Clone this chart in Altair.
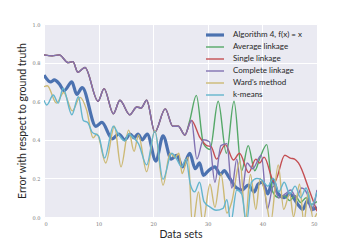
import altair as alt
import pandas as pd

series_names = ["Algorithm 4, f(x) = x", "Average linkage", "Single linkage",
                "Complete linkage", "Ward's method", "k-means"]
series_colors = ["#4C72B0", "#55A868", "#C44E52", "#8172B2", "#CCB974", "#64B5CD"]
series_widths = [3.2, 1.4, 1.4, 1.4, 1.4, 1.4]

x_ticks = [0, 10, 20, 30, 40, 50]
y_ticks = [0.0, 0.2, 0.4, 0.6, 0.8, 1.0]

# Algorithm 4
algo_x = [0, 1.2, 1.9, 2.8, 3.7, 5.1, 6.0, 7.0, 9.5, 10.6, 12.5, 13.7, 14.8, 15.8, 16.5,
          17.2, 18.0, 18.9, 20.5, 21.8, 23.3, 24.3, 25.4, 26.7, 27.7, 28.5, 29.2, 30.1,
          31.3, 32.3, 33.0, 33.8, 35.3, 36.3, 37.4, 38.5, 39.2, 40.0, 41.0, 41.9, 42.8,
          44.0, 45.0, 46.5, 47.4, 48.3, 49.2, 50]
algo_y = [0.735, 0.70, 0.71, 0.69, 0.655, 0.70, 0.635, 0.67, 0.47, 0.49, 0.405, 0.43,
          0.40, 0.43, 0.41, 0.43, 0.40, 0.43, 0.29, 0.42, 0.30, 0.32, 0.26, 0.33, 0.25,
          0.28, 0.215, 0.24, 0.26, 0.22, 0.24, 0.21, 0.15, 0.14, 0.165, 0.13, 0.17, 0.18,
          0.12, 0.195, 0.125, 0.10, 0.12, 0.065, 0.04, 0.085, 0.04, 0.05]

# Complete linkage
complete_x = [0, 1.5, 2.8, 4.4, 5.3, 6.2, 7.5, 9.9, 11.0, 12.7, 13.9, 15.7, 17.0, 17.8,
              18.8, 20.3, 22.2, 23.6, 24.6, 25.8, 27.0, 28.0, 29.2, 30.3, 31.3, 32.4,
              33.5, 34.4, 35.3, 36.2, 37.2, 38.2, 39.8, 40.9, 42.0, 43.0, 44.2, 45.2,
              46.2, 47.2, 48.2, 49.0, 50]
complete_y = [0.84, 0.835, 0.84, 0.80, 0.805, 0.75, 0.775, 0.60, 0.665, 0.535, 0.605,
              0.53, 0.57, 0.565, 0.605, 0.44, 0.56, 0.47, 0.47, 0.425, 0.50, 0.30, 0.40,
              0.39, 0.18, 0.37, 0.38, 0.15, 0.30, 0.12, 0.28, 0.25, 0.32, 0.04, 0.16,
              0.10, 0.12, 0.14, 0.10, 0.15, 0.12, 0.03, 0.14]

# Average linkage (identical to complete linkage on the first data sets)
average_tail_x = [26.7, 27.9, 29.2, 30.4, 31.9, 33.4, 34.8, 36.2, 37.4, 38.6, 39.6, 40.8,
                  41.9, 43.0, 44.0, 45.0, 46.0, 47.0, 48.0, 49.0, 50]
average_tail_y = [0.50, 0.63, 0.38, 0.35, 0.60, 0.33, 0.60, 0.24, 0.37, 0.24, 0.31, 0.375,
                  0.13, 0.10, 0.11, 0.085, 0.11, 0.075, 0.10, 0.065, 0.08]

# Single linkage (identical to complete linkage on the first data sets)
single_tail_x = [28.6, 29.8, 30.6, 31.6, 33.2, 34.7, 35.8, 37.5, 38.8, 39.5, 40.3, 42.2,
                 44.1, 45.1, 45.9, 46.6, 48.7, 50]
single_tail_y = [0.41, 0.37, 0.365, 0.30, 0.375, 0.295, 0.33, 0.23, 0.30, 0.28, 0.31,
                 0.18, 0.32, 0.305, 0.30, 0.28, 0.13, 0.03]

# Ward's method
ward_x = [0, 0.6, 2.3, 3.6, 5.2, 6.6, 7.8, 9.0, 9.7, 11.3, 12.9, 14.1, 15.5, 16.5, 17.3,
          18.8, 20.3, 21.8, 23.1, 24.0, 24.7, 25.3, 26.4, 27.2, 28.3, 29.1, 30.4, 31.3,
          32.4, 33.5, 34.4, 35.9, 36.9, 37.8, 38.8, 39.6, 40.5, 41.5, 42.9, 43.9, 45.0,
          45.7, 46.8, 47.6, 48.4, 49.3, 50]
ward_y = [0.675, 0.68, 0.59, 0.645, 0.55, 0.62, 0.555, 0.41, 0.43, 0.28, 0.47, 0.26, 0.45,
          0.34, 0.425, 0.235, 0.45, 0.165, 0.33, 0.31, 0.33, 0.225, 0.31, -0.05, 0.13,
          -0.03, 0.17, 0.05, 0.225, 0.02, 0.08, 0.29, -0.02, 0.22, 0.04, 0.20, 0.12,
          -0.03, 0.27, 0.04, 0.12, 0.0, 0.17, -0.03, 0.13, -0.01, 0.02]

# k-means
kmeans_x = [0, 0.5, 1.7, 2.6, 3.5, 5.1, 6.3, 7.2, 8.0, 8.8, 10.0, 11.1, 12.7, 13.6, 14.8,
            15.5, 16.4, 17.3, 18.8, 20.3, 21.8, 23.4, 24.3, 25.2, 26.0, 26.8, 27.6, 28.5,
            29.3, 30.5, 31.5, 32.8, 33.5, 34.2, 35.3, 36.2, 37.1, 38.0, 39.0, 40.0, 41.0,
            42.0, 43.0, 44.0, 45.0, 46.0, 47.0, 48.0, 49.0, 50]
kmeans_y = [0.605, 0.58, 0.632, 0.59, 0.667, 0.53, 0.623, 0.50, 0.49, 0.44, 0.42, 0.305,
            0.47, 0.43, 0.395, 0.43, 0.41, 0.38, 0.27, 0.445, 0.195, 0.33, 0.30, 0.26,
            0.30, 0.17, 0.13, 0.18, 0.08, 0.05, 0.035, 0.045, 0.09, -0.03, 0.14, 0.12,
            -0.03, 0.18, 0.20, 0.19, 0.16, 0.20, 0.13, 0.18, 0.12, 0.16, 0.10, 0.15,
            0.06, 0.13]

average_x = complete_x[:20] + average_tail_x
average_y = complete_y[:20] + average_tail_y
single_x = complete_x[:21] + single_tail_x
single_y = complete_y[:21] + single_tail_y

all_x = [algo_x, average_x, single_x, complete_x, ward_x, kmeans_x]
all_y = [algo_y, average_y, single_y, complete_y, ward_y, kmeans_y]

rows = []
for name, xs, ys in zip(series_names, all_x, all_y):
    for xv, yv in zip(xs, ys):
        rows.append({"series": name, "x": xv, "y": yv})
df = pd.DataFrame(rows)

legend = alt.Legend(
    title=None, orient="none", legendX=160, legendY=5,
    symbolType="stroke", symbolSize=324, labelFont="Lato", labelFontSize=8,
    labelColor="#262626", labelOffset=7, clipHeight=12, rowPadding=0,
    padding=0,
)

base = alt.Chart(df).mark_line(interpolate="monotone", clip=True).encode(
    x=alt.X("x:Q", scale=alt.Scale(domain=[0, 50], nice=False),
            axis=alt.Axis(values=x_ticks, format="d", title="Data sets",
                          titleY=20, titleBaseline="alphabetic")),
    y=alt.Y("y:Q", scale=alt.Scale(domain=[0, 1], nice=False),
            axis=alt.Axis(values=y_ticks, format=".1f",
                          title="Error with respect to ground truth",
                          titleX=-17, titleY=96.5, titleAngle=-90,
                          titleAlign="center", titleBaseline="bottom")),
    color=alt.Color("series:N", scale=alt.Scale(domain=series_names, range=series_colors),
                    legend=legend),
    strokeWidth=alt.StrokeWidth("series:N",
                                scale=alt.Scale(type="ordinal", domain=series_names,
                                                range=series_widths),
                                legend=legend),
)

layers = [base.transform_filter(alt.datum.series == name) for name in series_names]

chart = alt.layer(*layers).properties(
    width=273, height=193,
    padding={"left": 36, "top": 16, "right": 27, "bottom": 25},
    autosize=alt.AutoSizeParams(type="none"),
    background="white",
).configure_view(
    fill="#EAEAF2", stroke="transparent"
).configure_axis(
    domain=False, ticks=False, grid=True, gridColor="white", gridWidth=1,
    labelFont="DejaVu Serif", labelFontSize=5, labelColor="#777777", labelPadding=4,
    titleFont="Lato", titleFontSize=10.5, titleFontWeight="normal", titleColor="#262626",
)

chart.save("out.html", embed_options={"renderer": "svg", "actions": False})
